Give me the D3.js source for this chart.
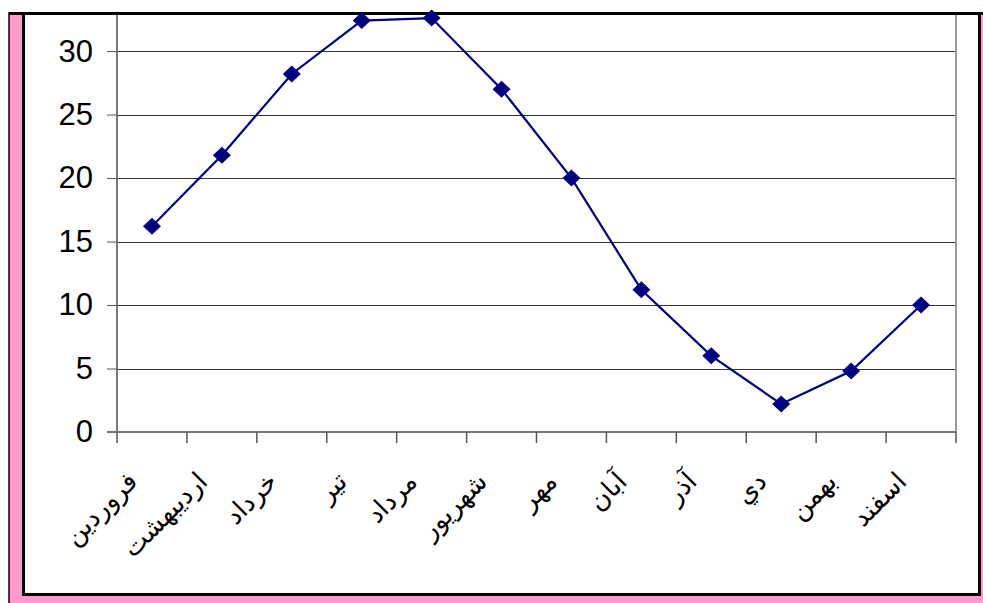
<!DOCTYPE html>
<html>
<head>
<meta charset="utf-8">
<script src="https://cdn.jsdelivr.net/npm/d3@7"></script>
<style>
  html, body { margin: 0; padding: 0; background: #fff; }
  svg { display: block; }
</style>
</head>
<body>
<svg id="chart" width="983" height="603"></svg>
<script>
// Persian months
const months = ["فروردين", "ارديبهشت", "خرداد", "تير", "مرداد", "شهريور", "مهر", "آبان", "آذر", "دي", "بهمن", "اسفند"];
// Monthly values
const values = [16.2, 21.8, 28.2, 32.4, 32.6, 27.0, 20.0, 11.2, 6.0, 2.2, 4.8, 10.0];
// Value axis ticks
const yTicks = [0, 5, 10, 15, 20, 25, 30];

const svg = d3.select("#chart");

// outer pink frame and inner black chart border
svg.append("rect").attr("x", 9).attr("y", 13).attr("width", 980).attr("height", 600)
  .attr("fill", "#ff99cc").attr("stroke", "#000").attr("stroke-width", 1.5);
svg.append("rect").attr("x", 23.5).attr("y", 13.5).attr("width", 956).attr("height", 581)
  .attr("fill", "#fff").attr("stroke", "#000").attr("stroke-width", 3);
svg.append("line").attr("x1", 9).attr("x2", 983).attr("y1", 13.5).attr("y2", 13.5)
  .attr("stroke", "#000").attr("stroke-width", 3);

const plot = { left: 117, right: 956, top: 15, bottom: 432 };

const x = d3.scaleBand().domain(months).range([plot.left, plot.right]);
const y = d3.scaleLinear().domain([0, 33]).range([plot.bottom, 13]);

// horizontal gridlines
svg.append("g").selectAll("line").data(yTicks.filter(d => d > 0)).join("line")
  .attr("x1", plot.left).attr("x2", plot.right)
  .attr("y1", d => Math.round(y(d)) + 0.5).attr("y2", d => Math.round(y(d)) + 0.5)
  .attr("stroke", "#333").attr("stroke-width", 1);

// plot area right border
svg.append("line").attr("x1", plot.right).attr("x2", plot.right)
  .attr("y1", 15).attr("y2", plot.bottom)
  .attr("stroke", "#999").attr("stroke-width", 2);

// value axis
const yAxis = svg.append("g").attr("transform", `translate(${plot.left},0)`)
  .call(d3.axisLeft(y).tickValues(yTicks).tickSize(10).tickPadding(14).tickFormat(d3.format("d")));
yAxis.select(".domain").attr("d", `M0,15V${plot.bottom}`).attr("stroke", "#777").attr("stroke-width", 2);
yAxis.selectAll(".tick line").attr("stroke", "#555");
yAxis.selectAll(".tick text").attr("font-family", "'Liberation Sans', Arial, sans-serif")
  .attr("font-size", 31).attr("fill", "#000");

// category axis
const xAxis = svg.append("g").attr("transform", `translate(0,${plot.bottom})`);
xAxis.append("line").attr("x1", plot.left - 10).attr("x2", plot.right)
  .attr("y1", 0).attr("y2", 0).attr("stroke", "#777").attr("stroke-width", 2);
const bounds = months.map(m => x(m)).concat([plot.right]);
xAxis.selectAll("line.tk").data(bounds).join("line").attr("class", "tk")
  .attr("x1", d => d).attr("x2", d => d).attr("y1", 0).attr("y2", 11)
  .attr("stroke", "#555").attr("stroke-width", 1.5);
xAxis.selectAll("text").data(months).join("text")
  .attr("transform", d => `translate(${x(d) + x.bandwidth() / 2 - 24},${40}) rotate(-45)`)
  .attr("text-anchor", "end")
  .attr("dy", "0.6em")
  .attr("font-family", "'DejaVu Sans', sans-serif")
  .attr("font-size", 26)
  .attr("fill", "#000")
  .text(d => d);

// series line
const line = d3.line().x((d, i) => x(months[i]) + x.bandwidth() / 2).y(d => y(d));
svg.append("path").datum(values).attr("d", line)
  .attr("fill", "none").attr("stroke", "#000080").attr("stroke-width", 2.2);

// diamond markers
svg.append("g").selectAll("path").data(values).join("path")
  .attr("transform", (d, i) => `translate(${x(months[i]) + x.bandwidth() / 2},${y(d)})`)
  .attr("d", "M0,-8.5L9,0L0,8.5L-9,0Z")
  .attr("fill", "#000080");
</script>
</body>
</html>
